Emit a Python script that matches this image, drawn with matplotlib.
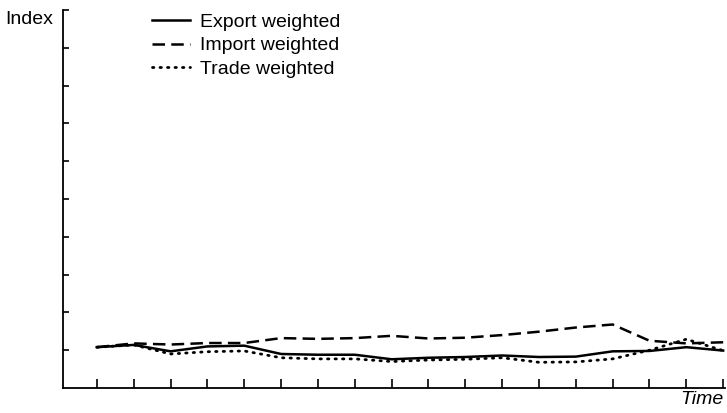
import matplotlib.pyplot as plt

plt.rcParams['font.family'] = ['Liberation Sans', 'DejaVu Sans']

periodos = list(range(18))
export_w = [1.08, 1.14, 0.97, 1.10, 1.12, 0.90, 0.88, 0.88, 0.76, 0.80,
            0.82, 0.86, 0.82, 0.83, 0.97, 0.98, 1.08, 0.99]
import_w = [1.08, 1.18, 1.15, 1.19, 1.19, 1.32, 1.30, 1.32, 1.38, 1.31,
            1.33, 1.40, 1.49, 1.60, 1.68, 1.25, 1.18, 1.21]
trade_w = [1.08, 1.14, 0.90, 0.96, 0.98, 0.80, 0.77, 0.77, 0.70, 0.74,
           0.76, 0.80, 0.68, 0.69, 0.77, 1.00, 1.29, 0.99]

fig = plt.figure(figsize=(7.27, 4.13), dpi=100)
ax = fig.add_axes([63/727, 1 - 388/413, (725 - 63)/727, (388 - 10)/413])

ax.plot(periodos, export_w, color="black", lw=1.8, label="Export weighted")
ax.plot(periodos, import_w, color="black", lw=1.8, dashes=(5, 2.5), label="Import weighted")
ax.plot(periodos, trade_w, color="black", lw=2, linestyle=(0, (0.5, 2.2)),
        dash_capstyle="round", label="Trade weighted")

ax.set_xlim(-0.92, 17.05)
ax.set_ylim(0, 10)
ax.set_xticks(periodos)
ax.set_yticks(range(1, 11))
ax.set_xticklabels([])
ax.set_yticklabels([])
ax.tick_params(direction="in", width=1.2, color="black")
ax.tick_params(axis="y", length=4.5)
ax.tick_params(axis="x", length=6.5)
ax.spines["top"].set_visible(False)
ax.spines["right"].set_visible(False)
for s in ["left", "bottom"]:
    ax.spines[s].set_linewidth(1.3)

fig.text(5/727, 1 - 19/413, "Index", fontsize=14, va="center", ha="left")
fig.text(724/727, 1 - 399/413, "Time", fontsize=14, style="italic",
         va="center", ha="right")

ax.legend(loc="upper left", bbox_to_anchor=(151/727, 1 - 12/413),
          bbox_transform=fig.transFigure, frameon=False, fontsize=14,
          handlelength=1.95, handletextpad=0.5, labelspacing=0.32,
          borderpad=0.05, borderaxespad=0)

fig.savefig("out.png", dpi=100)
